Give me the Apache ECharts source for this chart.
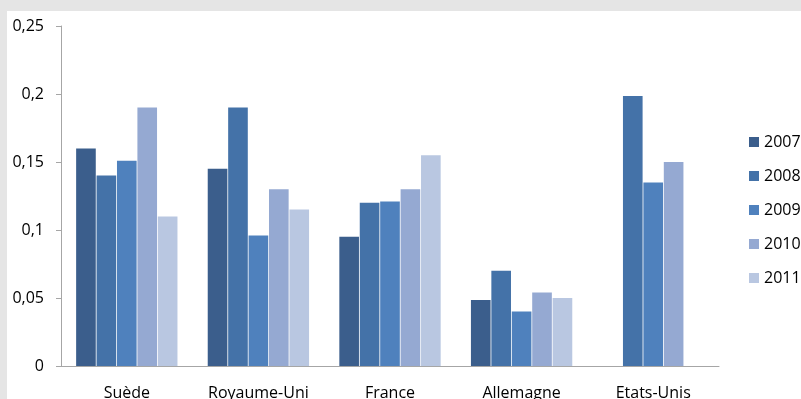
<!DOCTYPE html>
<html>
<head>
<meta charset="utf-8">
<script src="https://cdn.jsdelivr.net/npm/echarts@6/dist/echarts.min.js"></script>
<style>
  html, body { margin: 0; padding: 0; background: #e5e5e5; overflow: hidden; }
  #chart { position: absolute; left: 7px; top: 11px; width: 794px; height: 388px; background: #fff; }
</style>
</head>
<body>
<div id="chart"></div>
<script>
var pays = ['Suède', 'Royaume-Uni', 'France', 'Allemagne', 'Etats-Unis'];
var annees = ['2007', '2008', '2009', '2010', '2011'];
var v2007 = [0.16, 0.145, 0.095, 0.0485, null];
var v2008 = [0.14, 0.19, 0.12, 0.07, 0.1985];
var v2009 = [0.151, 0.096, 0.121, 0.04, 0.135];
var v2010 = [0.19, 0.13, 0.13, 0.054, 0.15];
var v2011 = [0.11, 0.115, 0.155, 0.05, null];
var couleurs = ['#3B5E8C', '#4472A8', '#4F81BD', '#95A9D2', '#B9C7E1'];

var Chart1 = echarts.init(document.getElementById('chart'));
var valeurs = [v2007, v2008, v2009, v2010, v2011];
var series = [];
for (var i = 0; i < annees.length; i++) {
    series.push({
        name: annees[i],
        type: 'bar',
        data: valeurs[i],
        barGap: '4%',
        barCategoryGap: '23%',
        itemStyle: { color: couleurs[i] }
    });
}
option = {
    animation: false,
    textStyle: { fontFamily: 'Open Sans' },
    grid: { left: 54, top: 15, right: 82, bottom: 33, outerBoundsMode: 'none', containLabel: false },
    legend: {
        orient: 'vertical',
        left: 737,
        top: 118,
        itemWidth: 10,
        itemHeight: 10,
        itemGap: 18,
        icon: 'rect',
        textStyle: { fontSize: 16, color: '#000', fontFamily: 'Open Sans' },
        data: annees
    },
    xAxis: {
        type: 'category',
        data: pays,
        axisLine: { lineStyle: { color: '#a6a6a6' } },
        axisTick: { length: 5, lineStyle: { color: '#a6a6a6' } },
        axisLabel: { color: '#000', fontSize: 16, margin: 19 }
    },
    yAxis: {
        type: 'value',
        min: 0,
        max: 0.25,
        interval: 0.05,
        splitLine: { show: false },
        axisLine: { show: true, lineStyle: { color: '#a6a6a6' } },
        axisTick: { show: true, length: 5, lineStyle: { color: '#a6a6a6' } },
        axisLabel: {
            color: '#000',
            fontSize: 16,
            margin: 17,
            formatter: function (v) { return String(Math.round(v * 100) / 100).replace('.', ','); }
        }
    },
    series: series
};
Chart1.setOption(option);
</script>
</body>
</html>
